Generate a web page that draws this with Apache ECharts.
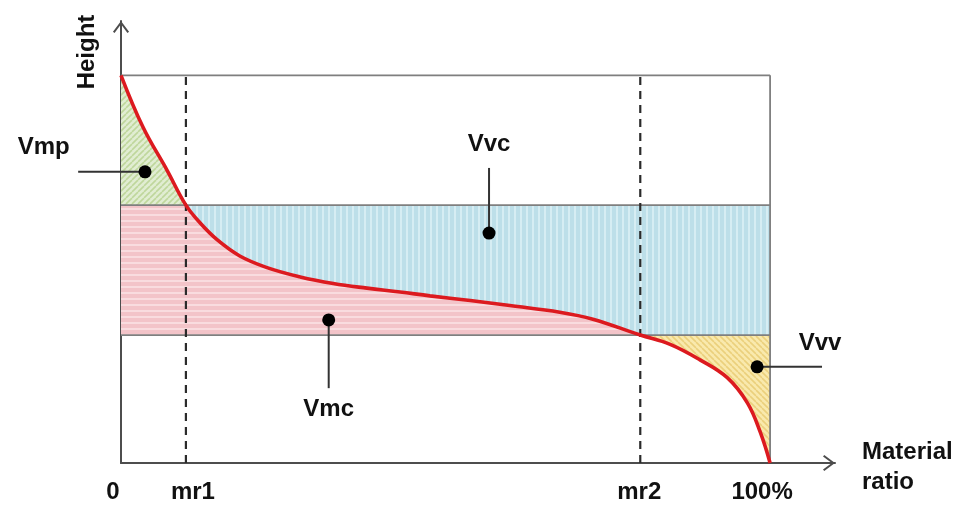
<!DOCTYPE html>
<html>
<head>
<meta charset="utf-8">
<title>Abbott-Firestone curve – volume parameters</title>
<script src="https://cdn.jsdelivr.net/npm/echarts@6/dist/echarts.min.js"></script>
<style>
  html, body { margin: 0; padding: 0; background: #ffffff; }
  #chart { width: 959px; height: 508px; }
</style>
</head>
<body>
<div id="chart"></div>
<script>
// Bearing-area (material ratio) curve, material ratio in % vs. height
const ratio  = [0, 3.4, 7.1, 10, 12.2, 14.8, 18.3, 22.5, 27.6, 32.7, 37.9, 43.0, 47.6, 53.8, 59.9, 67.6, 72.7, 80, 84.6, 89.2, 93.4, 96.5, 98.5, 100];
const height = [100, 86.6, 75.5, 66.5, 61.9, 57.6, 53.4, 50.4, 48.0, 46.3, 45.1, 44.1, 43.1, 41.9, 40.6, 38.9, 37.1, 33.0, 30.6, 26.6, 22.0, 15.5, 7.9, 0];

// Material ratio thresholds and the corresponding core heights
const mr1 = 10;
const mr2 = 80;
const peakTop = 100;
const coreTop = 66.5;
const coreBottom = 33;

// Tick labels on the material-ratio axis
const tickValues = [0, 10, 80, 100];
const tickLabels = ['0', 'mr1', 'mr2', '100%'];

// Volume parameter callouts: dot, end of leader line, label position
const volNames   = ['Vmp', 'Vvc', 'Vmc', 'Vvv'];
const volDots    = [[3.7, 75.1], [56.7, 59.3], [32.0, 36.9], [98.0, 24.8]];
const volLeaders = [[-6.6, 75.1], [56.7, 76.1], [32.0, 19.3], [108.0, 24.8]];
const volText    = [[-11.9, 81.4], [56.7, 82.3], [32.0, 13.9], [107.7, 30.8]];

const FAMILY = '"Liberation Sans", Arial, sans-serif';
const FONT = 'bold 24px ' + FAMILY;

// ---- fill patterns -------------------------------------------------------
function tile(w, h, draw) {
  const c = document.createElement('canvas');
  c.width = w; c.height = h;
  draw(c.getContext('2d'), w, h);
  return { image: c, repeat: 'repeat' };
}
function hatch(bg, fg, s, dir) {
  return tile(s, s, (g) => {
    g.fillStyle = bg; g.fillRect(0, 0, s, s);
    g.strokeStyle = fg; g.lineWidth = 1.6;
    for (let k = -1; k <= 1; k++) {
      g.beginPath();
      if (dir > 0) { g.moveTo(k * s, s); g.lineTo(k * s + s, 0); }
      else { g.moveTo(k * s, 0); g.lineTo(k * s + s, s); }
      g.stroke();
    }
  });
}
const greenFill  = hatch('#e1edd2', '#bfd79c', 6, 1);
const yellowFill = hatch('#f9e9ad', '#ebd07c', 6, -1);
const pinkFill = tile(4, 6, (g) => {
  g.fillStyle = '#f3c4c9'; g.fillRect(0, 0, 4, 6);
  g.fillStyle = '#f9dcdf'; g.fillRect(0, 4, 4, 2);
});
const blueFill = tile(6, 4, (g) => {
  g.fillStyle = '#bddfe9'; g.fillRect(0, 0, 6, 4);
  g.fillStyle = '#d6edf3'; g.fillRect(4, 0, 2, 4);
});

// ---- region polygons (data space) ----------------------------------------
const curvePts = ratio.map((r, i) => [r, height[i]]);
const peakPart   = curvePts.filter(p => p[0] <= mr1);
const corePart   = curvePts.filter(p => p[0] >= mr1 && p[0] <= mr2);
const valleyPart = curvePts.filter(p => p[0] >= mr2);
const regions = [
  { pts: peakPart.concat([[0, coreTop]]), fill: greenFill },                               // Vmp
  { pts: corePart.concat([[0, coreBottom], [0, coreTop]]), fill: pinkFill },               // Vmc
  { pts: corePart.concat([[100, coreBottom], [100, coreTop]]), fill: blueFill },           // Vvc
  { pts: valleyPart.concat([[100, coreBottom]]), fill: yellowFill }                        // Vvv
];

// Solid reference lines: top of peaks, core limits, 100% edge
const frameLines = [
  [[0, peakTop], [100, peakTop]],
  [[0, coreTop], [100, coreTop]],
  [[0, coreBottom], [100, coreBottom]],
  [[100, 0], [100, peakTop]]
];
// Dashed markers at mr1 / mr2
const markerLines = [
  [[mr1, 0], [mr1, peakTop]],
  [[mr2, 0], [mr2, peakTop]]
];

const chart = echarts.init(document.getElementById('chart'), null, { renderer: 'canvas' });

const chevron = 'path://M0,12 L9,0 L18,12 L16.2,13.4 L9,3.6 L1.8,13.4 Z';
const tickStyle = { fontSize: 24, fontWeight: 'bold', fontFamily: FAMILY, color: '#111' };

chart.setOption({
  animation: false,
  backgroundColor: '#ffffff',
  grid: { left: 121, top: 21, width: 714, height: 442, containLabel: false },
  xAxis: {
    type: 'value', min: 0, max: 110, interval: 10,
    axisLine: {
      show: true, lineStyle: { color: '#4d4d4d', width: 2 },
      symbol: ['none', chevron], symbolSize: [17, 12], symbolOffset: [0, -6]
    },
    axisTick: { show: false },
    splitLine: { show: false },
    axisLabel: {
      margin: 17,
      formatter: (v) => {
        const i = tickValues.indexOf(v);
        return i < 0 ? '' : '{t' + i + '|' + tickLabels[i] + '}';
      },
      rich: {
        t0: Object.assign({ padding: [0, 16, 0, 0] }, tickStyle),
        t1: Object.assign({ padding: [0, 0, 0, 14] }, tickStyle),
        t2: Object.assign({ padding: [0, 2, 0, 0] }, tickStyle),
        t3: Object.assign({ padding: [0, 16, 0, 0] }, tickStyle)
      }
    }
  },
  yAxis: {
    type: 'value', min: 0, max: 114,
    axisLine: {
      show: true, lineStyle: { color: '#4d4d4d', width: 2 },
      symbol: ['none', chevron], symbolSize: [17, 12], symbolOffset: [0, -6]
    },
    axisTick: { show: false },
    splitLine: { show: false },
    axisLabel: { show: false }
  },
  graphic: [
    {
      type: 'text', x: 87, y: 52, rotation: Math.PI / 2,
      style: { text: 'Height', font: FONT, fill: '#111', align: 'center', verticalAlign: 'middle' }
    },
    {
      type: 'text', x: 862, y: 437,
      style: { text: 'Material\nratio', font: FONT, fill: '#111', lineHeight: 30, align: 'left', verticalAlign: 'top' }
    }
  ],
  series: [
    {
      name: 'volumes', type: 'custom', z: 1, silent: true,
      data: regions.map((_, i) => i),
      renderItem: (params, api) => {
        const reg = regions[api.value(0)];
        return {
          type: 'polygon',
          shape: { points: reg.pts.map(p => api.coord(p)) },
          style: { fill: reg.fill, stroke: null }
        };
      }
    },
    {
      name: 'frame', type: 'custom', z: 2, silent: true,
      data: frameLines.map((_, i) => i),
      renderItem: (params, api) => {
        const seg = frameLines[api.value(0)];
        const a = api.coord(seg[0]), b = api.coord(seg[1]);
        return {
          type: 'line',
          shape: { x1: a[0], y1: a[1], x2: b[0], y2: b[1] },
          style: { stroke: '#7f7f7f', lineWidth: 1.8 }
        };
      }
    },
    {
      name: 'markers', type: 'custom', z: 3, silent: true,
      data: markerLines.map((_, i) => i),
      renderItem: (params, api) => {
        const seg = markerLines[api.value(0)];
        const a = api.coord(seg[0]), b = api.coord(seg[1]);
        return {
          type: 'line',
          shape: { x1: a[0], y1: a[1], x2: b[0], y2: b[1] },
          style: { stroke: '#2b2b2b', lineWidth: 2.2, lineDash: [8, 6] }
        };
      }
    },
    {
      name: 'bearing curve', type: 'line', z: 4, silent: true,
      data: curvePts,
      smooth: 0.4,
      showSymbol: false,
      lineStyle: { color: '#dc1a1f', width: 3.6 }
    },
    {
      name: 'callouts', type: 'custom', z: 5, silent: true,
      data: volNames.map((_, i) => i),
      renderItem: (params, api) => {
        const i = api.value(0);
        const d = api.coord(volDots[i]);
        const e = api.coord(volLeaders[i]);
        const t = api.coord(volText[i]);
        return {
          type: 'group',
          children: [
            { type: 'line', shape: { x1: d[0], y1: d[1], x2: e[0], y2: e[1] }, style: { stroke: '#333', lineWidth: 2 } },
            { type: 'circle', shape: { cx: d[0], cy: d[1], r: 6.5 }, style: { fill: '#000' } },
            { type: 'text', x: t[0], y: t[1], style: { text: volNames[i], font: FONT, fill: '#111', align: 'center', verticalAlign: 'middle' } }
          ]
        };
      }
    }
  ]
});
</script>
</body>
</html>
